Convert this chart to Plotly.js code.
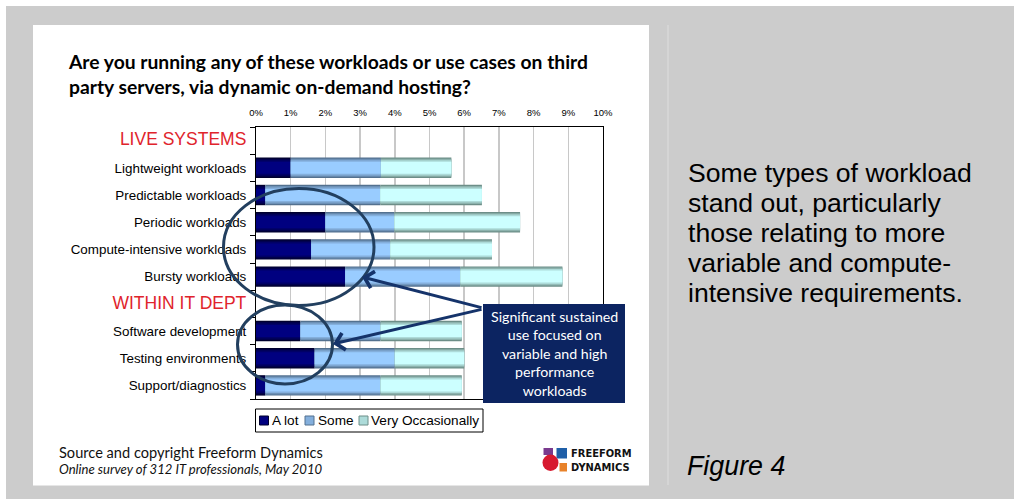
<!DOCTYPE html>
<html>
<head>
<meta charset="utf-8">
<script src="https://cdn.plot.ly/plotly-3.0.1.min.js"></script>
<style>
  html, body { margin: 0; padding: 0; background: #cccccc; }
  #chart { width: 1014px; height: 499px; }
</style>
</head>
<body>
<div id="chart"></div>
<script>
// ---- data (in %) ----
const categories = [
  "LIVE SYSTEMS",
  "Lightweight workloads",
  "Predictable workloads",
  "Periodic workloads",
  "Compute-intensive workloads",
  "Bursty workloads",
  "WITHIN IT DEPT",
  "Software development",
  "Testing environments",
  "Support/diagnostics"
];
const seriesNames = ["A lot", "Some", "Very Occasionally"];
const aLot   = [null, 1.00, 0.27, 2.00, 1.59, 2.57, null, 1.28, 1.69, 0.27];
const some   = [null, 2.60, 3.31, 1.99, 2.28, 3.32, null, 2.31, 2.31, 3.32];
const veryOcc= [null, 2.03, 2.93, 3.62, 2.93, 2.94, null, 2.34, 2.00, 2.34];
const headerCategories = ["LIVE SYSTEMS", "WITHIN IT DEPT"];
const xTickVals = [0,1,2,3,4,5,6,7,8,9,10];
const sideTextLines = [
  "Some types of workload",
  "stand out, particularly",
  "those relating to more",
  "variable and compute-",
  "intensive requirements."
];

// ---- layout helpers (pixel -> paper) ----
const L = 256, T = 127, W = 347, H = 272;
const px = p => (p - L) / W;
const py = p => (T + H - p) / H;

// gradient-like bands for each series: outer (dark edge) -> inner (light core)
const bandWidths = [0.75, 0.66, 0.56, 0.44];
const bandColors = [
  ["#00002e", "#00004a", "#000066", "#000080"],
  ["#53718f", "#6c90b6", "#84afdc", "#99ccff"],
  ["#6d8e88", "#8cb2ad", "#addbd9", "#ccffff"]
];
const seriesValues = [aLot, some, veryOcc];

// stacking bases built from the series
const bases = seriesValues.map((vals, s) =>
  vals.map((v, i) => {
    if (v === null) return null;
    let b = 0;
    for (let k = 0; k < s; k++) b += seriesValues[k][i] || 0;
    return b;
  })
);

const traces = [];
seriesValues.forEach((vals, s) => {
  bandWidths.forEach((w, k) => {
    traces.push({
      type: "bar",
      orientation: "h",
      y: categories,
      x: vals,
      base: bases[s],
      width: w,
      name: seriesNames[s],
      legendgroup: seriesNames[s],
      showlegend: false,
      marker: { color: bandColors[s][k], line: { width: 0 } },
      hoverinfo: k === bandWidths.length - 1 ? "x+y+name" : "skip"
    });
  });
});

const tickText = categories.map(c =>
  headerCategories.includes(c)
    ? '<span style="color:#e0242c;font-size:17.5px">' + c + '</span>'
    : c
);

const navy = "#0c2461";
const ring = "#223f5f";

const shapes = [
  // outer frame strips and white card
  { type: "rect", xref: "paper", yref: "paper", x0: px(0), x1: px(1014), y0: py(0), y1: py(6), fillcolor: "#ffffff", line: { width: 0 }, layer: "below" },
  { type: "rect", xref: "paper", yref: "paper", x0: px(0), x1: px(6), y0: py(0), y1: py(499), fillcolor: "#ffffff", line: { width: 0 }, layer: "below" },
  { type: "rect", xref: "paper", yref: "paper", x0: px(33), x1: px(649), y0: py(25), y1: py(485.5), fillcolor: "#ffffff", line: { width: 0 }, layer: "below" },
  { type: "line", xref: "paper", yref: "paper", x0: px(668), x1: px(668), y0: py(25), y1: py(485), line: { color: "#d8d8d8", width: 1.5 }, layer: "below" },
  // highlight rings
  { type: "circle", xref: "paper", yref: "paper", x0: px(223.5), x1: px(374), y0: py(188.5), y1: py(305.5), line: { color: ring, width: 3 }, layer: "above" },
  { type: "circle", xref: "paper", yref: "paper", x0: px(237.5), x1: px(332.5), y0: py(305), y1: py(384), line: { color: ring, width: 3 }, layer: "above" },
  // callout box
  { type: "rect", xref: "paper", yref: "paper", x0: px(483), x1: px(625), y0: py(304), y1: py(403), fillcolor: navy, line: { width: 0 }, layer: "above" },
  // legend box and swatches
  { type: "rect", xref: "paper", yref: "paper", x0: px(255.5), x1: px(483), y0: py(409), y1: py(432), fillcolor: "#ffffff", line: { color: "#000000", width: 1 } },
  { type: "rect", xref: "paper", yref: "paper", x0: px(259.5), x1: px(268.5), y0: py(416), y1: py(425), fillcolor: bandColors[0][3], line: { color: bandColors[0][0], width: 1 } },
  { type: "rect", xref: "paper", yref: "paper", x0: px(305), x1: px(314), y0: py(416), y1: py(425), fillcolor: bandColors[1][2], line: { color: bandColors[1][0], width: 1 } },
  { type: "rect", xref: "paper", yref: "paper", x0: px(359), x1: px(368), y0: py(416), y1: py(425), fillcolor: bandColors[2][2], line: { color: bandColors[2][0], width: 1 } },
  // logo blocks
  { type: "rect", xref: "paper", yref: "paper", x0: px(543.5), x1: px(553), y0: py(448), y1: py(455), fillcolor: "#7a3a8e", line: { width: 0 } },
  { type: "rect", xref: "paper", yref: "paper", x0: px(556.5), x1: px(567), y0: py(448), y1: py(458.5), fillcolor: "#1f5fa8", line: { width: 0 } },
  { type: "rect", xref: "paper", yref: "paper", x0: px(559.5), x1: px(567), y0: py(463), y1: py(471.5), fillcolor: "#e8822a", line: { width: 0 } },
  { type: "circle", xref: "paper", yref: "paper", x0: px(542.5), x1: px(558.5), y0: py(454.5), y1: py(471), fillcolor: "#d7192f", line: { width: 0 } }
];

const legendFont = { family: "'Liberation Sans', Arial, sans-serif", size: 13.6, color: "#000000" };
const legendX = [271, 316.5, 370];

const annotations = [
  // callout text
  { xref: "paper", yref: "paper", x: px(554), y: py(353.5), xanchor: "center", yanchor: "middle", showarrow: false, align: "center",
    text: "Significant sustained<br>use focused on<br>variable and high<br>performance<br>workloads",
    font: { family: "Lato, 'Open Sans', sans-serif", size: 14.2, color: "#ffffff" } },
  // arrows from callout to rings
  { xref: "paper", yref: "paper", x: px(362), y: py(277), ax: 121, ay: 31, axref: "pixel", ayref: "pixel",
    showarrow: true, arrowhead: 4, arrowsize: 1.1, arrowwidth: 3, arrowcolor: "#15336a", standoff: 0, text: "" },
  { xref: "paper", yref: "paper", x: px(333), y: py(344), ax: 150, ay: -35, axref: "pixel", ayref: "pixel",
    showarrow: true, arrowhead: 4, arrowsize: 1.1, arrowwidth: 3, arrowcolor: "#15336a", standoff: 0, text: "" },
  // footer
  { xref: "paper", yref: "paper", x: px(57), y: py(452), xanchor: "left", yanchor: "middle", showarrow: false,
    text: "Source and copyright Freeform Dynamics", font: { family: "Lato, sans-serif", size: 14.6, color: "#111111" } },
  { xref: "paper", yref: "paper", x: px(57), y: py(469), xanchor: "left", yanchor: "middle", showarrow: false,
    text: "<i>Online survey of 312 IT professionals, May 2010</i>", font: { family: "Lato, sans-serif", size: 13.1, color: "#111111" } },
  // logo text
  { xref: "paper", yref: "paper", x: px(569), y: py(453), xanchor: "left", yanchor: "middle", showarrow: false,
    text: "<b>FREEFORM</b>", font: { family: "'DejaVu Sans Condensed', 'Liberation Sans Narrow', sans-serif", size: 11, color: "#111111" } },
  { xref: "paper", yref: "paper", x: px(569), y: py(467), xanchor: "left", yanchor: "middle", showarrow: false,
    text: "<b>DYNAMICS</b>", font: { family: "'DejaVu Sans Condensed', 'Liberation Sans Narrow', sans-serif", size: 11, color: "#111111" } },
  // figure label
  { xref: "paper", yref: "paper", x: px(685), y: py(466), xanchor: "left", yanchor: "middle", showarrow: false,
    text: "<i>Figure 4</i>", font: { family: "'Liberation Sans', Arial, sans-serif", size: 26.8, color: "#000000" } }
];

// legend labels
seriesNames.forEach((n, i) => {
  annotations.push({ xref: "paper", yref: "paper", x: px(legendX[i]), y: py(420.5), xanchor: "left", yanchor: "middle",
    showarrow: false, text: n, font: legendFont, borderpad: 0 });
});

// side commentary, one line each
sideTextLines.forEach((t, i) => {
  annotations.push({ xref: "paper", yref: "paper", x: px(686), y: py(173 + 30 * i), xanchor: "left", yanchor: "middle",
    showarrow: false, text: t, font: { family: "'Liberation Sans', Arial, sans-serif", size: 26.6, color: "#000000" } });
});

const layout = {
  width: 1014,
  height: 499,
  margin: { l: L, r: 1014 - L - W, t: T, b: 499 - T - H, pad: 0 },
  paper_bgcolor: "#cccccc",
  plot_bgcolor: "rgba(0,0,0,0)",
  barmode: "overlay",
  showlegend: false,
  title: {
    text: "<b>Are you running any of these workloads or use cases on third<br>party servers, via dynamic on-demand hosting?</b>",
    xref: "container", yref: "container",
    x: 69 / 1014, xanchor: "left",
    y: 1 - 68.5 / 499, yanchor: "top",
    font: { family: "Lato, 'Open Sans', sans-serif", size: 19.3, color: "#000000" }
  },
  xaxis: {
    side: "top",
    range: [0, 10],
    tickvals: xTickVals,
    ticktext: xTickVals.map(v => v + "%"),
    ticks: "",
    ticklabelstandoff: 6,
    tickfont: { family: "'Liberation Sans', Arial, sans-serif", size: 9.5, color: "#000000" },
    showgrid: true,
    gridcolor: "#c8c8c8",
    gridwidth: 1.5,
    zeroline: false,
    showline: true,
    mirror: true,
    linecolor: "#000000",
    linewidth: 1,
    fixedrange: true
  },
  yaxis: {
    type: "category",
    categoryorder: "array",
    categoryarray: categories,
    range: [categories.length - 0.5, -0.5],
    tickvals: categories,
    ticktext: tickText,
    tickson: "boundaries",
    ticks: "outside",
    ticklen: 5,
    tickcolor: "#000000",
    ticklabelstandoff: 6,
    tickfont: { family: "'Liberation Sans', Arial, sans-serif", size: 13.4, color: "#000000" },
    showgrid: false,
    zeroline: false,
    showline: true,
    mirror: true,
    linecolor: "#000000",
    linewidth: 1,
    fixedrange: true
  },
  shapes: shapes,
  annotations: annotations
};

Plotly.newPlot("chart", traces, layout, { displayModeBar: false, staticPlot: true });
</script>
</body>
</html>
